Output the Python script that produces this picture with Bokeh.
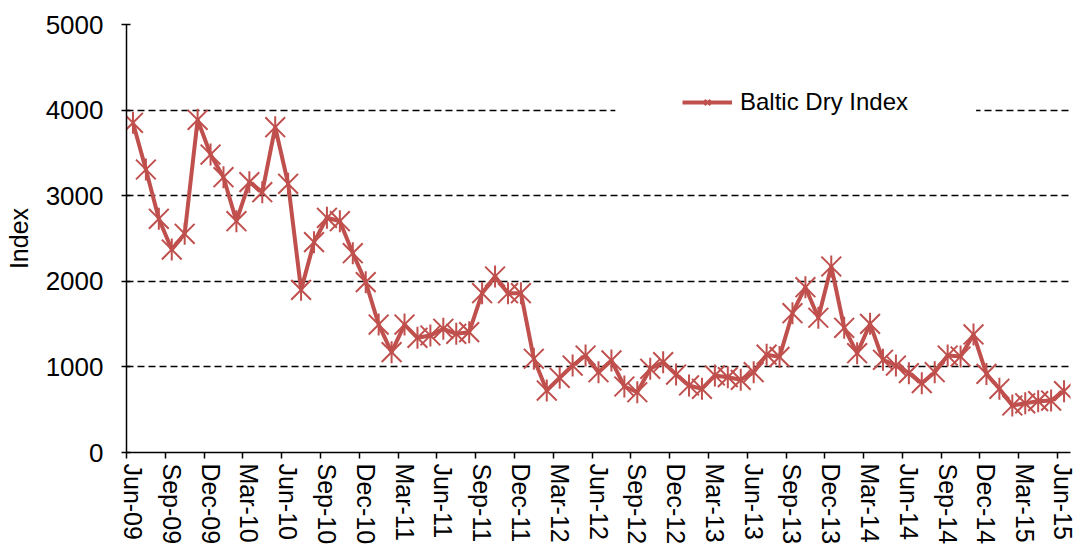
from bokeh.plotting import figure
from bokeh.models import FixedTicker, Legend, LegendItem, Range1d, BoxAnnotation
from bokeh.embed import file_html
from bokeh.resources import INLINE

# Monthly Baltic Dry Index, Jun-09 .. Jun-15 (73 months)
bdi_values = [
    3852, 3306, 2730, 2371, 2555, 3887, 3481, 3216, 2702, 3158, 3041, 3800,
    3139, 1900, 2457, 2742, 2702, 2328, 1990, 1495, 1172, 1495, 1340, 1367,
    1445, 1387, 1406, 1861, 2056, 1861, 1861, 1095, 724, 873, 1016, 1133,
    938, 1075, 771, 704, 978, 1055, 911, 783, 744, 900, 880, 849,
    938, 1143, 1117, 1627, 1931, 1574, 2173, 1457, 1160, 1503, 1083, 1016,
    927, 810, 938, 1133, 1121, 1379, 918, 744, 549, 575, 600, 607,
    716,
]
month_index = list(range(len(bdi_values)))

tick_labels = [
    "Jun-09", "Sep-09", "Dec-09", "Mar-10", "Jun-10", "Sep-10", "Dec-10",
    "Mar-11", "Jun-11", "Sep-11", "Dec-11", "Mar-12", "Jun-12", "Sep-12",
    "Dec-12", "Mar-13", "Jun-13", "Sep-13", "Dec-13", "Mar-14", "Jun-14",
    "Sep-14", "Dec-14", "Mar-15", "Jun-15",
]
label_positions = [3 * k for k in range(len(tick_labels))]
boundary_ticks = [3 * k - 0.5 for k in range(len(tick_labels))]

RED = "#C0504D"
FONT = "Liberation Sans"

p = figure(
    width=1076, height=549,
    output_backend="svg", toolbar_location=None,
    x_range=Range1d(-0.5, len(bdi_values) - 0.5),
    y_range=Range1d(0, 5000),
    min_border_left=126, min_border_right=6, min_border_top=24, min_border_bottom=97,
)
p.outline_line_color = None
p.background_fill_color = "white"
p.border_fill_color = "white"

# Y axis
p.yaxis.ticker = FixedTicker(ticks=[0, 1000, 2000, 3000, 4000, 5000])
p.yaxis.axis_label = "Index"
p.yaxis.axis_label_text_font = FONT
p.yaxis.axis_label_text_font_size = "25px"
p.yaxis.axis_label_text_font_style = "normal"
p.yaxis.axis_label_text_color = "black"
p.yaxis.axis_label_standoff = 10
p.yaxis.major_label_text_font = FONT
p.yaxis.major_label_text_font_size = "26px"
p.yaxis.major_label_text_color = "black"
p.yaxis.major_label_standoff = 18
p.yaxis.major_tick_in = 4
p.yaxis.major_tick_out = 5
p.yaxis.minor_tick_line_color = None
p.yaxis.axis_line_width = 1.5
p.yaxis.major_tick_line_width = 1.5
p.yaxis.axis_line_color = "black"

# X axis
p.xaxis.ticker = FixedTicker(ticks=label_positions, minor_ticks=boundary_ticks)
p.xaxis.major_label_overrides = {pos: lab for pos, lab in zip(label_positions, tick_labels)}
p.xaxis.major_label_orientation = "vertical"
p.xaxis.major_label_text_font = FONT
p.xaxis.major_label_text_font_size = "25px"
p.xaxis.major_label_text_color = "black"
p.xaxis.major_label_standoff = 5
p.xaxis.major_tick_line_color = None
p.xaxis.major_tick_in = 0
p.xaxis.major_tick_out = 0
p.xaxis.minor_tick_in = 0
p.xaxis.minor_tick_out = 6
p.xaxis.minor_tick_line_color = "black"
p.xaxis.minor_tick_line_width = 1.5
p.xaxis.axis_line_width = 1.5
p.xaxis.axis_line_color = "black"

# Grid
p.xgrid.grid_line_color = None
p.ygrid.grid_line_color = "black"
p.ygrid.grid_line_dash = "7 4"
p.ygrid.grid_line_width = 1.6

# White legend area (hides the gridline behind the legend, as in the original)
p.add_layout(BoxAnnotation(left=37.3, right=65.2, bottom=3800, top=4200,
                           fill_color="white", fill_alpha=1.0, line_color=None))

# Series
ln = p.line(month_index, bdi_values, line_color=RED, line_width=4)
mx = p.scatter(month_index, bdi_values, marker="x", size=28, line_color=RED, line_width=2)
mv = p.scatter(month_index, bdi_values, marker="dash", angle=1.5708, size=22,
               line_color=RED, line_width=2)

legend = Legend(
    items=[LegendItem(label="Baltic Dry Index", renderers=[ln, mx, mv])],
    location=(556, 336),
    label_text_font=FONT,
    label_text_font_size="24px",
    label_text_color="black",
    glyph_width=50,
    glyph_height=20,
    label_standoff=8,
    label_width=222,
    padding=12,
    border_line_color=None,
    background_fill_color="white",
    background_fill_alpha=1.0,
)
p.add_layout(legend)

open("out.html", "w").write(file_html(p, INLINE))
